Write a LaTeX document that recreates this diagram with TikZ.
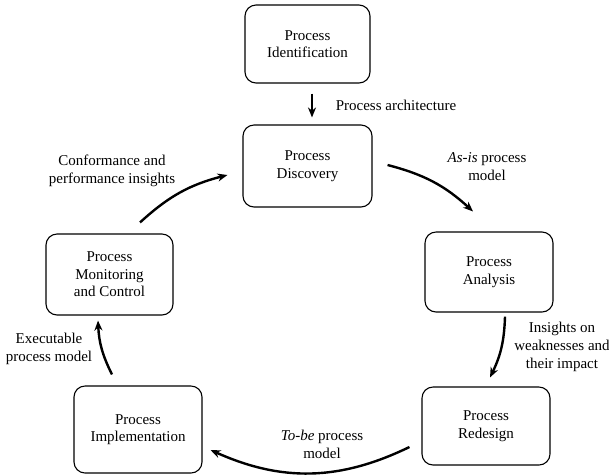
\documentclass[tikz,border=0pt]{standalone}
\usepackage{fontspec}
\setmainfont{Liberation Serif}
\usetikzlibrary{arrows.meta}
\begin{document}
\begin{tikzpicture}[x=1pt,y=1pt,
  box/.style={draw, line width=1.1pt, rounded corners=11pt, minimum width=128pt, minimum height=80pt, align=center, font=\fontsize{15}{17.5}\selectfont, inner sep=0pt},
  lbl/.style={align=center, font=\fontsize{15}{18}\selectfont, inner sep=0pt},
  flow/.style={line width=2.4pt, -{Stealth[length=10pt,width=8pt]}}]
\useasboundingbox (0,0) rectangle (609,-475);
\node[box, minimum width=125pt, minimum height=78pt] (ident) at (307.5,-44) {Process\\Identification};
\node[box, minimum width=129pt, minimum height=82pt] (disc) at (307.5,-166) {Process\\Discovery};
\node[box] (anal) at (489,-272) {Process\\Analysis};
\node[box, minimum height=78pt] (rede) at (486,-426) {Process\\Redesign};
\node[box, minimum width=127pt, minimum height=81pt] (moni) at (109.5,-274.5) {Process\\Monitoring\\and Control};
\node[box, minimum height=87pt] (impl) at (138,-429.5) {Process\\Implementation};

\coordinate (ds) at ([shift={(15pt,1pt)}]disc.east);
\coordinate (ae) at ([shift={(-16pt,20pt)}]anal.north);
\coordinate (as) at ([shift={(16pt,-4pt)}]anal.south);
\coordinate (re) at ([shift={(4pt,9pt)}]rede.north);
\coordinate (rs) at ([shift={(-12pt,-21pt)}]rede.west);
\coordinate (ie) at ([shift={(8pt,-20.5pt)}]impl.east);
\coordinate (is) at ([shift={(-26pt,11pt)}]impl.north);
\coordinate (me) at ([shift={(-11.5pt,-5pt)}]moni.south);
\coordinate (ms) at ([shift={(30.5pt,11pt)}]moni.north);
\coordinate (de) at ([shift={(-15pt,-9pt)}]disc.west);

\draw[flow, shorten <=10pt, shorten >=7pt] ([xshift=4.5pt]ident.south) -- ([xshift=4.5pt]disc.north);
\draw[flow] (ds) to[bend left=14] (ae);
\draw[flow] (as) to[bend left=12] (re);
\draw[flow] (rs) to[bend left=25] (ie);
\draw[flow] (is) to[bend left=12] (me);
\draw[flow] (ms) to[bend left=14] (de);

\node[lbl] (l1) at (396,-105) {Process architecture};
\node[lbl] (l2) at (487,-166.5) {\textit{As-is} process\\model};
\node[lbl] (l3) at (562,-346.5) {Insights on\\weaknesses and\\their impact};
\node[lbl] (l4) at (322,-444) {\textit{To-be} process\\model};
\node[lbl] (l5) at (49,-349) {Executable\\process model};
\node[lbl] (l6) at (112,-171) {Conformance and\\performance insights};
\end{tikzpicture}
\end{document}
